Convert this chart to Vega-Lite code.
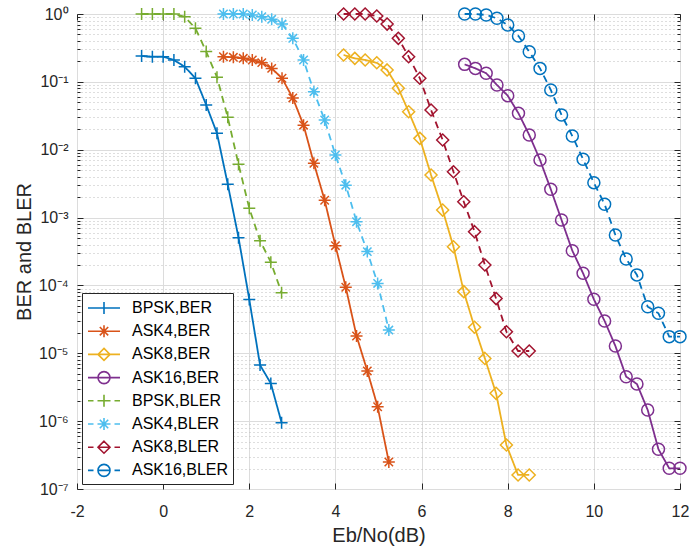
{
  "$schema": "https://vega.github.io/schema/vega-lite/v6.json",
  "width": 603,
  "height": 475,
  "autosize": {"type": "none"},
  "padding": {"left": 77, "top": 14, "right": 11, "bottom": 64},
  "background": "white",
  "config": {
    "font": "Liberation Sans",
    "view": {"stroke": "#262626", "strokeWidth": 1},
    "axis": {
      "labelFont": "Liberation Sans",
      "titleFont": "Liberation Sans",
      "labelColor": "#262626",
      "titleColor": "#262626",
      "titleFontWeight": "normal",
      "labelFontSize": 16,
      "titleFontSize": 20,
      "tickColor": "#262626",
      "labelFlush": false,
      "labelOverlap": false
    }
  },
  "data": {
    "values": [
      {"series": "BPSK,BER", "type": "BER", "x": -0.5, "y": 0.24},
      {"series": "BPSK,BER", "type": "BER", "x": -0.25, "y": 0.235},
      {"series": "BPSK,BER", "type": "BER", "x": 0, "y": 0.235},
      {"series": "BPSK,BER", "type": "BER", "x": 0.25, "y": 0.21},
      {"series": "BPSK,BER", "type": "BER", "x": 0.5, "y": 0.167},
      {"series": "BPSK,BER", "type": "BER", "x": 0.75, "y": 0.113},
      {"series": "BPSK,BER", "type": "BER", "x": 1, "y": 0.0456},
      {"series": "BPSK,BER", "type": "BER", "x": 1.25, "y": 0.0175},
      {"series": "BPSK,BER", "type": "BER", "x": 1.5, "y": 0.0031},
      {"series": "BPSK,BER", "type": "BER", "x": 1.75, "y": 0.000506},
      {"series": "BPSK,BER", "type": "BER", "x": 2, "y": 6.2e-5},
      {"series": "BPSK,BER", "type": "BER", "x": 2.25, "y": 6.7e-6},
      {"series": "BPSK,BER", "type": "BER", "x": 2.5, "y": 3.6e-6},
      {"series": "BPSK,BER", "type": "BER", "x": 2.75, "y": 9.5e-7},

      {"series": "BPSK,BLER", "type": "BLER", "x": -0.5, "y": 1},
      {"series": "BPSK,BLER", "type": "BLER", "x": -0.25, "y": 1},
      {"series": "BPSK,BLER", "type": "BLER", "x": 0, "y": 1},
      {"series": "BPSK,BLER", "type": "BLER", "x": 0.25, "y": 1},
      {"series": "BPSK,BLER", "type": "BLER", "x": 0.5, "y": 0.91},
      {"series": "BPSK,BLER", "type": "BLER", "x": 0.75, "y": 0.615},
      {"series": "BPSK,BLER", "type": "BLER", "x": 1, "y": 0.279},
      {"series": "BPSK,BLER", "type": "BLER", "x": 1.25, "y": 0.117},
      {"series": "BPSK,BLER", "type": "BLER", "x": 1.5, "y": 0.03},
      {"series": "BPSK,BLER", "type": "BLER", "x": 1.75, "y": 0.0061},
      {"series": "BPSK,BLER", "type": "BLER", "x": 2, "y": 0.00137},
      {"series": "BPSK,BLER", "type": "BLER", "x": 2.25, "y": 0.000457},
      {"series": "BPSK,BLER", "type": "BLER", "x": 2.5, "y": 0.00022},
      {"series": "BPSK,BLER", "type": "BLER", "x": 2.75, "y": 7.8e-5},

      {"series": "ASK4,BER", "type": "BER", "x": 1.4, "y": 0.235},
      {"series": "ASK4,BER", "type": "BER", "x": 1.63, "y": 0.23},
      {"series": "ASK4,BER", "type": "BER", "x": 1.86, "y": 0.222},
      {"series": "ASK4,BER", "type": "BER", "x": 2.07, "y": 0.21},
      {"series": "ASK4,BER", "type": "BER", "x": 2.29, "y": 0.192},
      {"series": "ASK4,BER", "type": "BER", "x": 2.52, "y": 0.158},
      {"series": "ASK4,BER", "type": "BER", "x": 2.76, "y": 0.113},
      {"series": "ASK4,BER", "type": "BER", "x": 3.01, "y": 0.058},
      {"series": "ASK4,BER", "type": "BER", "x": 3.26, "y": 0.023},
      {"series": "ASK4,BER", "type": "BER", "x": 3.5, "y": 0.0063},
      {"series": "ASK4,BER", "type": "BER", "x": 3.75, "y": 0.0018},
      {"series": "ASK4,BER", "type": "BER", "x": 4.0, "y": 0.000385},
      {"series": "ASK4,BER", "type": "BER", "x": 4.24, "y": 9.4e-5},
      {"series": "ASK4,BER", "type": "BER", "x": 4.49, "y": 1.8e-5},
      {"series": "ASK4,BER", "type": "BER", "x": 4.74, "y": 5.5e-6},
      {"series": "ASK4,BER", "type": "BER", "x": 4.98, "y": 1.63e-6},
      {"series": "ASK4,BER", "type": "BER", "x": 5.24, "y": 2.5e-7},

      {"series": "ASK4,BLER", "type": "BLER", "x": 1.4, "y": 1},
      {"series": "ASK4,BLER", "type": "BLER", "x": 1.63, "y": 1},
      {"series": "ASK4,BLER", "type": "BLER", "x": 1.86, "y": 1},
      {"series": "ASK4,BLER", "type": "BLER", "x": 2.07, "y": 0.967},
      {"series": "ASK4,BLER", "type": "BLER", "x": 2.29, "y": 0.91},
      {"series": "ASK4,BLER", "type": "BLER", "x": 2.52, "y": 0.834},
      {"series": "ASK4,BLER", "type": "BLER", "x": 2.76, "y": 0.71},
      {"series": "ASK4,BLER", "type": "BLER", "x": 3.01, "y": 0.438},
      {"series": "ASK4,BLER", "type": "BLER", "x": 3.26, "y": 0.21},
      {"series": "ASK4,BLER", "type": "BLER", "x": 3.5, "y": 0.0716},
      {"series": "ASK4,BLER", "type": "BLER", "x": 3.75, "y": 0.0274},
      {"series": "ASK4,BLER", "type": "BLER", "x": 4.0, "y": 0.00836},
      {"series": "ASK4,BLER", "type": "BLER", "x": 4.24, "y": 0.003},
      {"series": "ASK4,BLER", "type": "BLER", "x": 4.49, "y": 0.00087},
      {"series": "ASK4,BLER", "type": "BLER", "x": 4.74, "y": 0.000315},
      {"series": "ASK4,BLER", "type": "BLER", "x": 4.98, "y": 0.000107},
      {"series": "ASK4,BLER", "type": "BLER", "x": 5.24, "y": 2.2e-5},

      {"series": "ASK8,BER", "type": "BER", "x": 4.19, "y": 0.249},
      {"series": "ASK8,BER", "type": "BER", "x": 4.45, "y": 0.222},
      {"series": "ASK8,BER", "type": "BER", "x": 4.69, "y": 0.21},
      {"series": "ASK8,BER", "type": "BER", "x": 4.96, "y": 0.191},
      {"series": "ASK8,BER", "type": "BER", "x": 5.2, "y": 0.15},
      {"series": "ASK8,BER", "type": "BER", "x": 5.46, "y": 0.0804},
      {"series": "ASK8,BER", "type": "BER", "x": 5.7, "y": 0.0363},
      {"series": "ASK8,BER", "type": "BER", "x": 5.96, "y": 0.0147},
      {"series": "ASK8,BER", "type": "BER", "x": 6.22, "y": 0.00424},
      {"series": "ASK8,BER", "type": "BER", "x": 6.49, "y": 0.00129},
      {"series": "ASK8,BER", "type": "BER", "x": 6.74, "y": 0.000372},
      {"series": "ASK8,BER", "type": "BER", "x": 6.98, "y": 8.1e-5},
      {"series": "ASK8,BER", "type": "BER", "x": 7.23, "y": 2.42e-5},
      {"series": "ASK8,BER", "type": "BER", "x": 7.47, "y": 8.4e-6},
      {"series": "ASK8,BER", "type": "BER", "x": 7.73, "y": 2.57e-6},
      {"series": "ASK8,BER", "type": "BER", "x": 7.97, "y": 4.45e-7},
      {"series": "ASK8,BER", "type": "BER", "x": 8.24, "y": 1.61e-7},
      {"series": "ASK8,BER", "type": "BER", "x": 8.5, "y": 1.61e-7},

      {"series": "ASK8,BLER", "type": "BLER", "x": 4.19, "y": 1},
      {"series": "ASK8,BLER", "type": "BLER", "x": 4.45, "y": 1},
      {"series": "ASK8,BLER", "type": "BLER", "x": 4.69, "y": 1},
      {"series": "ASK8,BLER", "type": "BLER", "x": 4.96, "y": 0.934},
      {"series": "ASK8,BLER", "type": "BLER", "x": 5.2, "y": 0.71},
      {"series": "ASK8,BLER", "type": "BLER", "x": 5.46, "y": 0.438},
      {"series": "ASK8,BLER", "type": "BLER", "x": 5.7, "y": 0.235},
      {"series": "ASK8,BLER", "type": "BLER", "x": 5.96, "y": 0.113},
      {"series": "ASK8,BLER", "type": "BLER", "x": 6.22, "y": 0.0385},
      {"series": "ASK8,BLER", "type": "BLER", "x": 6.49, "y": 0.0139},
      {"series": "ASK8,BLER", "type": "BLER", "x": 6.74, "y": 0.00474},
      {"series": "ASK8,BLER", "type": "BLER", "x": 6.98, "y": 0.00171},
      {"series": "ASK8,BLER", "type": "BLER", "x": 7.23, "y": 0.00062},
      {"series": "ASK8,BLER", "type": "BLER", "x": 7.47, "y": 0.0002},
      {"series": "ASK8,BLER", "type": "BLER", "x": 7.73, "y": 6.4e-5},
      {"series": "ASK8,BLER", "type": "BLER", "x": 7.97, "y": 2.08e-5},
      {"series": "ASK8,BLER", "type": "BLER", "x": 8.24, "y": 1.08e-5},
      {"series": "ASK8,BLER", "type": "BLER", "x": 8.5, "y": 1.08e-5},

      {"series": "ASK16,BER", "type": "BER", "x": 7.0, "y": 0.181},
      {"series": "ASK16,BER", "type": "BER", "x": 7.25, "y": 0.158},
      {"series": "ASK16,BER", "type": "BER", "x": 7.5, "y": 0.134},
      {"series": "ASK16,BER", "type": "BER", "x": 7.75, "y": 0.09},
      {"series": "ASK16,BER", "type": "BER", "x": 8.0, "y": 0.0626},
      {"series": "ASK16,BER", "type": "BER", "x": 8.25, "y": 0.0344},
      {"series": "ASK16,BER", "type": "BER", "x": 8.5, "y": 0.0165},
      {"series": "ASK16,BER", "type": "BER", "x": 8.75, "y": 0.00706},
      {"series": "ASK16,BER", "type": "BER", "x": 9.0, "y": 0.00261},
      {"series": "ASK16,BER", "type": "BER", "x": 9.25, "y": 0.00092},
      {"series": "ASK16,BER", "type": "BER", "x": 9.5, "y": 0.000325},
      {"series": "ASK16,BER", "type": "BER", "x": 9.75, "y": 0.000151},
      {"series": "ASK16,BER", "type": "BER", "x": 10.0, "y": 6.25e-5},
      {"series": "ASK16,BER", "type": "BER", "x": 10.25, "y": 2.99e-5},
      {"series": "ASK16,BER", "type": "BER", "x": 10.5, "y": 1.28e-5},
      {"series": "ASK16,BER", "type": "BER", "x": 10.75, "y": 4.52e-6},
      {"series": "ASK16,BER", "type": "BER", "x": 11.0, "y": 3.53e-6},
      {"series": "ASK16,BER", "type": "BER", "x": 11.25, "y": 1.46e-6},
      {"series": "ASK16,BER", "type": "BER", "x": 11.5, "y": 3.85e-7},
      {"series": "ASK16,BER", "type": "BER", "x": 11.75, "y": 2.02e-7},
      {"series": "ASK16,BER", "type": "BER", "x": 12.0, "y": 2.02e-7},

      {"series": "ASK16,BLER", "type": "BLER", "x": 7.0, "y": 1},
      {"series": "ASK16,BLER", "type": "BLER", "x": 7.25, "y": 1},
      {"series": "ASK16,BLER", "type": "BLER", "x": 7.5, "y": 0.967},
      {"series": "ASK16,BLER", "type": "BLER", "x": 7.75, "y": 0.865},
      {"series": "ASK16,BLER", "type": "BLER", "x": 8.0, "y": 0.689},
      {"series": "ASK16,BLER", "type": "BLER", "x": 8.25, "y": 0.474},
      {"series": "ASK16,BLER", "type": "BLER", "x": 8.5, "y": 0.278},
      {"series": "ASK16,BLER", "type": "BLER", "x": 8.75, "y": 0.158},
      {"series": "ASK16,BLER", "type": "BLER", "x": 9.0, "y": 0.0759},
      {"series": "ASK16,BLER", "type": "BLER", "x": 9.25, "y": 0.0325},
      {"series": "ASK16,BLER", "type": "BLER", "x": 9.5, "y": 0.0159},
      {"series": "ASK16,BLER", "type": "BLER", "x": 9.75, "y": 0.00722},
      {"series": "ASK16,BLER", "type": "BLER", "x": 10.0, "y": 0.00327},
      {"series": "ASK16,BLER", "type": "BLER", "x": 10.25, "y": 0.00157},
      {"series": "ASK16,BLER", "type": "BLER", "x": 10.5, "y": 0.000553},
      {"series": "ASK16,BLER", "type": "BLER", "x": 10.75, "y": 0.000245},
      {"series": "ASK16,BLER", "type": "BLER", "x": 11.0, "y": 0.000143},
      {"series": "ASK16,BLER", "type": "BLER", "x": 11.25, "y": 4.86e-5},
      {"series": "ASK16,BLER", "type": "BLER", "x": 11.5, "y": 3.88e-5},
      {"series": "ASK16,BLER", "type": "BLER", "x": 11.75, "y": 1.76e-5},
      {"series": "ASK16,BLER", "type": "BLER", "x": 12.0, "y": 1.76e-5}
    ]
  },
  "resolve": {
    "scale": {"shape": "independent"},
    "axis": {"x": "independent", "y": "independent"}
  },
  "layer": [
    {
      "mark": {"type": "line", "strokeWidth": 1.8},
      "encoding": {
        "x": {
          "field": "x", "type": "quantitative",
          "scale": {"domain": [-2, 12], "nice": false, "zero": false},
          "axis": {
            "orient": "bottom", "values": [-2, 0, 2, 4, 6, 8, 10, 12],
            "grid": true, "gridColor": "#dcdcdc", "gridWidth": 1,
            "ticks": false, "domain": false, "labelPadding": 14,
            "labelExpr": "'' + datum.value",
            "title": "Eb/No(dB)", "titlePadding": 6
          }
        },
        "y": {
          "field": "y", "type": "quantitative",
          "scale": {"type": "log", "domain": [1e-7, 1], "nice": false},
          "axis": {
            "orient": "left",
            "values": [1e-7, 1e-6, 1e-5, 1e-4, 1e-3, 1e-2, 1e-1, 1],
            "grid": true, "gridColor": "#dcdcdc", "gridWidth": 1,
            "ticks": false, "domain": false, "labelPadding": 9,
            "labelExpr": "'10' + (datum.value >= 0.5 ? '⁰' : '⁻' + ['⁰','¹','²','³','⁴','⁵','⁶','⁷'][round(-log(datum.value)/LN10)])",
            "title": "BER and BLER", "titlePadding": 4
          }
        },
        "color": {
          "field": "series", "type": "nominal",
          "scale": {
            "domain": ["BPSK,BER", "ASK4,BER", "ASK8,BER", "ASK16,BER", "BPSK,BLER", "ASK4,BLER", "ASK8,BLER", "ASK16,BLER"],
            "range": ["#0072BD", "#D95319", "#EDB120", "#7E2F8E", "#77AC30", "#4DBEEE", "#A2142F", "#0072BD"]
          },
          "legend": null
        },
        "strokeDash": {
          "field": "type", "type": "nominal",
          "scale": {"domain": ["BER", "BLER"], "range": [[1, 0], [7, 5]]},
          "legend": null
        }
      }
    },
    {
      "mark": {"type": "point", "filled": false, "strokeWidth": 1.5, "size": 144, "opacity": 1},
      "encoding": {
        "x": {
          "field": "x", "type": "quantitative",
          "axis": {
            "orient": "top", "values": [-2, 0, 2, 4, 6, 8, 10, 12],
            "labels": false, "grid": false, "domain": false, "ticks": true,
            "tickSize": -6, "title": null
          }
        },
        "y": {
          "field": "y", "type": "quantitative",
          "axis": {
            "orient": "right",
            "values": [1e-7, 1e-6, 1e-5, 1e-4, 1e-3, 1e-2, 1e-1, 1],
            "labels": false, "grid": false, "domain": false, "ticks": true,
            "tickSize": -6, "title": null
          }
        },
        "color": {"field": "series", "type": "nominal", "legend": null},
        "shape": {
          "field": "series", "type": "nominal",
          "scale": {
            "domain": ["BPSK,BER", "ASK4,BER", "ASK8,BER", "ASK16,BER", "BPSK,BLER", "ASK4,BLER", "ASK8,BLER", "ASK16,BLER"],
            "range": [
              "M-1,0H1M0,-1V1",
              "M-1,0H1M0,-1V1M-0.7,-0.7L0.7,0.7M-0.7,0.7L0.7,-0.7",
              "M0,-1L1,0L0,1L-1,0Z",
              "circle",
              "M-1,0H1M0,-1V1",
              "M-1,0H1M0,-1V1M-0.7,-0.7L0.7,0.7M-0.7,0.7L0.7,-0.7",
              "M0,-1L1,0L0,1L-1,0Z",
              "circle"
            ]
          },
          "legend": null
        }
      }
    },
    {
      "mark": {"type": "point", "filled": false, "opacity": 0, "size": 144},
      "encoding": {
        "x": {
          "field": "x", "type": "quantitative",
          "axis": {
            "orient": "bottom", "values": [-2, 0, 2, 4, 6, 8, 10, 12],
            "labels": false, "grid": false, "domain": false, "ticks": true,
            "tickSize": -6, "title": null
          }
        },
        "y": {
          "field": "y", "type": "quantitative",
          "axis": {
            "orient": "left",
            "values": [2e-7, 3e-7, 4e-7, 5e-7, 6e-7, 7e-7, 8e-7, 9e-7,
                       2e-6, 3e-6, 4e-6, 5e-6, 6e-6, 7e-6, 8e-6, 9e-6,
                       2e-5, 3e-5, 4e-5, 5e-5, 6e-5, 7e-5, 8e-5, 9e-5,
                       2e-4, 3e-4, 4e-4, 5e-4, 6e-4, 7e-4, 8e-4, 9e-4,
                       2e-3, 3e-3, 4e-3, 5e-3, 6e-3, 7e-3, 8e-3, 9e-3,
                       2e-2, 3e-2, 4e-2, 5e-2, 6e-2, 7e-2, 8e-2, 9e-2,
                       0.2, 0.3, 0.4, 0.5, 0.6, 0.7, 0.8, 0.9],
            "labels": false, "grid": true, "gridColor": "#bdbdbd", "gridDash": [1, 3], "gridWidth": 1,
            "domain": false, "ticks": true, "tickSize": -3, "title": null
          }
        },
        "shape": {
          "field": "series", "type": "nominal",
          "scale": {
            "domain": ["BPSK,BER", "ASK4,BER", "ASK8,BER", "ASK16,BER", "BPSK,BLER", "ASK4,BLER", "ASK8,BLER", "ASK16,BLER"],
            "range": [
              "M-1.6,0H1.6M0,-0.6V0.6",
              "M-1.6,0H1.6M0,-0.6V0.6M-0.42,-0.42L0.42,0.42M-0.42,0.42L0.42,-0.42",
              "M-1.6,0H1.6M0,-0.6L0.6,0L0,0.6L-0.6,0Z",
              "M-1.6,0H1.6M-0.6,0A0.6,0.6,0,1,0,0.6,0A0.6,0.6,0,1,0,-0.6,0Z",
              "M-1.6,0H-1.05M-0.65,0H0.65M1.05,0H1.6M0,-0.6V0.6",
              "M-1.6,0H-1.05M-0.65,0H0.65M1.05,0H1.6M0,-0.6V0.6M-0.42,-0.42L0.42,0.42M-0.42,0.42L0.42,-0.42",
              "M-1.6,0H-1.05M-0.65,0H0.65M1.05,0H1.6M0,-0.6L0.6,0L0,0.6L-0.6,0Z",
              "M-1.6,0H-1.05M-0.65,0H0.65M1.05,0H1.6M-0.6,0A0.6,0.6,0,1,0,0.6,0A0.6,0.6,0,1,0,-0.6,0Z"
            ]
          },
          "legend": {
            "orient": "none", "legendX": 5, "legendY": 279,
            "title": null, "direction": "vertical",
            "fillColor": "white", "strokeColor": "#262626", "cornerRadius": 0,
            "padding": 4, "symbolSize": 400, "symbolStrokeWidth": 1.6,
            "symbolOffset": 7, "labelOffset": 17, "rowPadding": 2.2,
            "labelFont": "Liberation Sans", "labelFontSize": 16, "labelColor": "#000000",
            "labelLimit": 300, "symbolOpacity": 1,
            "symbolStrokeColor": {"expr": "scale('color', datum.value)"},
            "encoding": {
              "symbols": {
                "stroke": {"value": {"expr": "scale('color', datum.value)"}},
                "fill": {"value": "transparent"},
                "opacity": {"value": 1}
              }
            }
          }
        }
      }
    },
    {
      "mark": {"type": "point", "opacity": 0},
      "encoding": {
        "x": {"field": "x", "type": "quantitative", "axis": null},
        "y": {
          "field": "y", "type": "quantitative",
          "axis": {
            "orient": "left",
            "values": [1e-7, 1e-6, 1e-5, 1e-4, 1e-3, 1e-2, 1e-1, 1],
            "labels": false, "grid": false, "domain": false, "ticks": true,
            "tickSize": -6, "title": null
          }
        }
      }
    },
    {
      "mark": {"type": "point", "opacity": 0},
      "encoding": {
        "x": {"field": "x", "type": "quantitative", "axis": null},
        "y": {
          "field": "y", "type": "quantitative",
          "axis": {
            "orient": "right",
            "values": [2e-7, 3e-7, 4e-7, 5e-7, 6e-7, 7e-7, 8e-7, 9e-7,
                       2e-6, 3e-6, 4e-6, 5e-6, 6e-6, 7e-6, 8e-6, 9e-6,
                       2e-5, 3e-5, 4e-5, 5e-5, 6e-5, 7e-5, 8e-5, 9e-5,
                       2e-4, 3e-4, 4e-4, 5e-4, 6e-4, 7e-4, 8e-4, 9e-4,
                       2e-3, 3e-3, 4e-3, 5e-3, 6e-3, 7e-3, 8e-3, 9e-3,
                       2e-2, 3e-2, 4e-2, 5e-2, 6e-2, 7e-2, 8e-2, 9e-2,
                       0.2, 0.3, 0.4, 0.5, 0.6, 0.7, 0.8, 0.9],
            "labels": false, "grid": false, "domain": false, "ticks": true,
            "tickSize": -3, "title": null
          }
        }
      }
    }
  ]
}
